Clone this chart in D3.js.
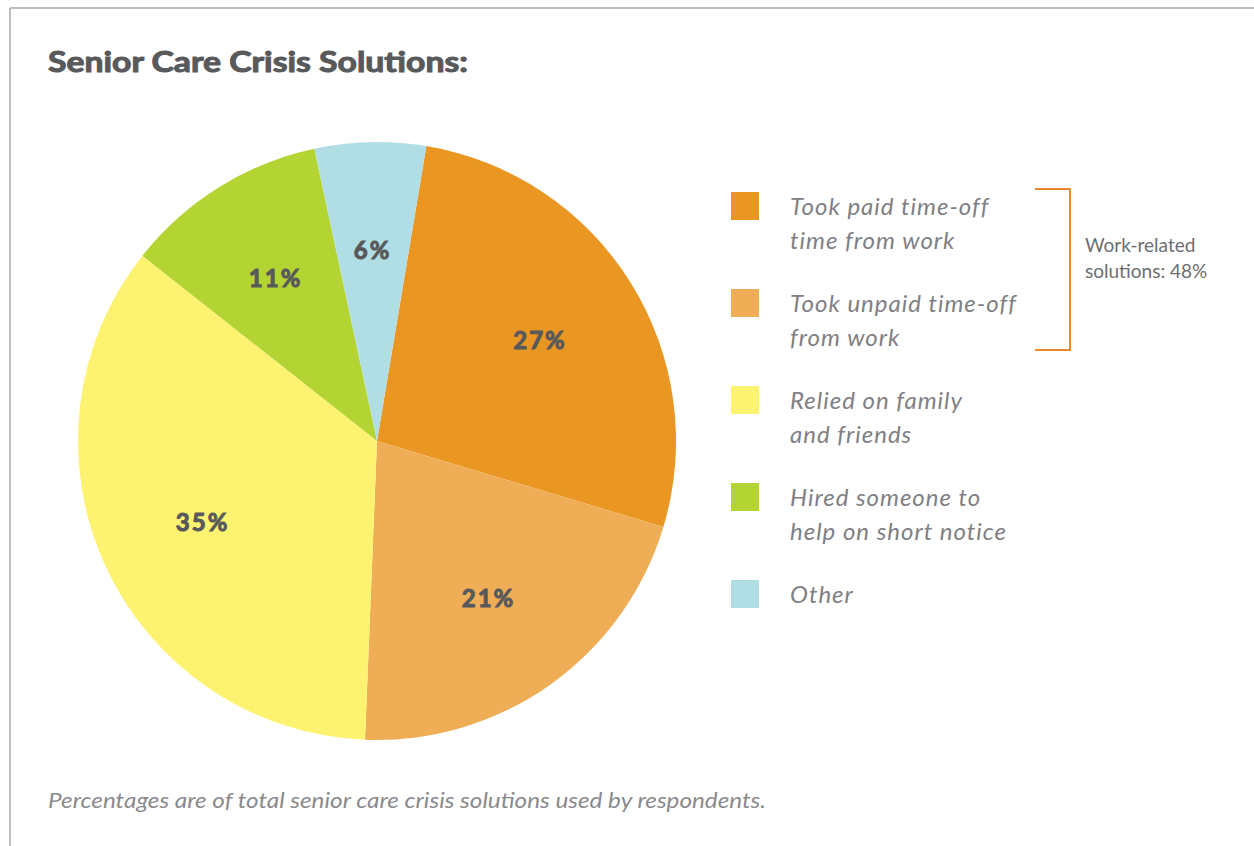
<!DOCTYPE html>
<html>
<head>
<meta charset="utf-8">
<script src="https://cdn.jsdelivr.net/npm/d3@7"></script>
<style>
  body { margin: 0; background: #fff; }
  svg { display: block; }
</style>
</head>
<body>
<script>
// chart data
const categories = [
  "Took paid time-off time from work",
  "Took unpaid time-off from work",
  "Relied on family and friends",
  "Hired someone to help on short notice",
  "Other"
];
const legendLines = [
  ["Took paid time-off", "time from work"],
  ["Took unpaid time-off", "from work"],
  ["Relied on family", "and friends"],
  ["Hired someone to", "help on short notice"],
  ["Other"]
];
const values = [27, 21, 35, 11, 6];
const colors = ["#EA9622", "#EFAE56", "#FEF370", "#B4D433", "#B0DEE4"];
const bracketNote = ["Work-related", "solutions: 48%"];

const W = 1254, H = 846;
const font = "'Gill Sans', Lato, 'Open Sans', sans-serif";

const svg = d3.select("body").append("svg")
  .attr("width", W)
  .attr("height", H);

// frame lines (top and left)
svg.append("line")
  .attr("x1", 10).attr("y1", 8).attr("x2", W).attr("y2", 8)
  .attr("stroke", "#BDBDBD").attr("stroke-width", 2);
svg.append("line")
  .attr("x1", 10).attr("y1", 8).attr("x2", 10).attr("y2", H)
  .attr("stroke", "#BDBDBD").attr("stroke-width", 2);

// title (stroke thickens the bold face a little)
svg.append("text")
  .text("Senior Care Crisis Solutions:")
  .attr("x", 48)
  .attr("y", 72)
  .attr("textLength", 420)
  .attr("lengthAdjust", "spacingAndGlyphs")
  .style("font-family", font)
  .style("font-weight", "bold")
  .style("font-size", "28px")
  .style("fill", "#58595B")
  .style("stroke", "#58595B")
  .style("stroke-width", 1);

// pie
const cx = 377, cy = 441, R = 299;
const start = 9.5 * Math.PI / 180;
const pie = d3.pie().sort(null).value(d => d)
  .startAngle(start).endAngle(start + 2 * Math.PI);
const arcs = pie(values);
const arc = d3.arc().innerRadius(0).outerRadius(R);
const labelArc = d3.arc().innerRadius(192).outerRadius(192);

const g = svg.append("g").attr("transform", `translate(${cx},${cy})`);
g.selectAll("path")
  .data(arcs)
  .join("path")
  .attr("d", arc)
  .attr("fill", (d, i) => colors[i]);

g.selectAll("text")
  .data(arcs)
  .join("text")
  .attr("transform", d => `translate(${labelArc.centroid(d)})`)
  .attr("text-anchor", "middle")
  .attr("dominant-baseline", "central")
  .text(d => d.data + "%")
  .style("font-family", font)
  .style("font-weight", "bold")
  .style("font-size", "24px")
  .style("letter-spacing", "2px")
  .style("fill", "#58595B")
  .style("stroke", "#58595B")
  .style("stroke-width", 1);

// legend
const legend = svg.append("g");
const rows = legend.selectAll("g")
  .data(categories)
  .join("g")
  .attr("transform", (d, i) => `translate(731,${206 + i * 97})`);

rows.append("rect")
  .attr("x", 0).attr("y", -14)
  .attr("width", 28).attr("height", 28)
  .attr("fill", (d, i) => colors[i]);

rows.append("text")
  .attr("x", 59)
  .attr("y", 9)
  .style("font-family", font)
  .style("font-style", "italic")
  .style("font-size", "24px")
  .style("letter-spacing", "1px")
  .style("fill", "#808084")
  .selectAll("tspan")
  .data((d, i) => legendLines[i])
  .join("tspan")
  .attr("x", 59)
  .attr("dy", (d, i) => i === 0 ? 0 : 34)
  .text(d => d);

// bracket around the two work-related rows
svg.append("path")
  .attr("d", "M1035,189 H1070 V350 H1035")
  .attr("fill", "none")
  .attr("stroke", "#E8892B")
  .attr("stroke-width", 2);

svg.append("text")
  .attr("x", 1085)
  .attr("y", 252)
  .style("font-family", font)
  .style("font-size", "19px")
  .style("fill", "#6D6E71")
  .selectAll("tspan")
  .data(bracketNote)
  .join("tspan")
  .attr("x", 1085)
  .attr("dy", (d, i) => i === 0 ? 0 : 26)
  .text(d => d);

// footnote
svg.append("text")
  .text("Percentages are of total senior care crisis solutions used by respondents.")
  .attr("x", 48)
  .attr("y", 808)
  .attr("textLength", 718)
  .attr("lengthAdjust", "spacingAndGlyphs")
  .style("font-family", font)
  .style("font-style", "italic")
  .style("font-size", "21px")
  .style("fill", "#8A8A8D");
</script>
</body>
</html>
